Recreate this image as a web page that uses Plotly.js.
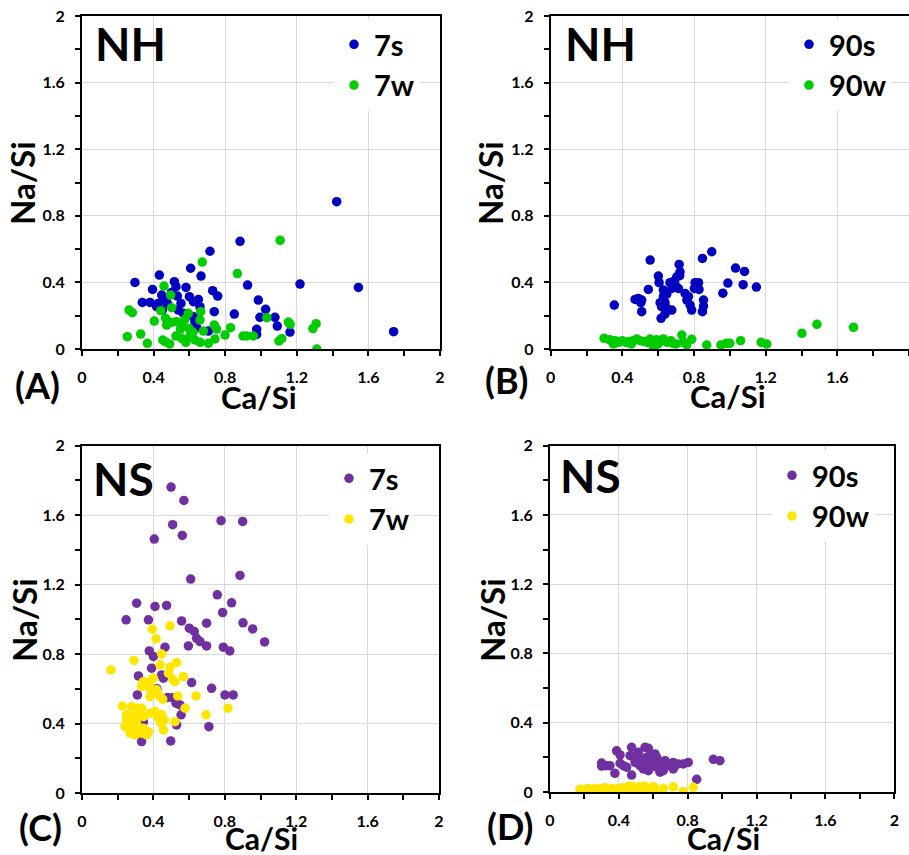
<!DOCTYPE html>
<html>
<head>
<meta charset="utf-8">
<script src="https://cdn.plot.ly/plotly-3.0.1.min.js"></script>
<style>html,body{margin:0;padding:0;background:#fff;}#chart{width:909px;height:855px;}</style>
</head>
<body>
<div id="chart"></div>
<script>
// ---------- DATA ----------
// Panel A: NH, 7 days
const nh7sX = [1.423,0.883,0.715,0.607,0.665,0.432,0.296,0.516,0.525,0.581,0.394,0.445,0.533,0.73,0.758,0.925,1.218,1.544,1.741,0.337,0.38,0.417,0.426,0.477,0.46,0.6,0.622,0.65,0.659,0.553,0.538,0.449,0.739,0.851,0.985,1.026,0.994,1.078,1.091,1.162,0.976,0.976,0.631,0.622,0.566,0.706,0.64,0.5];
const nh7sY = [0.885,0.647,0.587,0.485,0.438,0.444,0.40,0.404,0.374,0.37,0.358,0.324,0.318,0.35,0.318,0.384,0.39,0.37,0.104,0.28,0.28,0.254,0.274,0.274,0.30,0.314,0.284,0.298,0.254,0.274,0.234,0.234,0.224,0.21,0.294,0.238,0.19,0.19,0.138,0.102,0.118,0.088,0.164,0.194,0.214,0.108,0.13,0.34];
const nh7wX = [1.107,0.672,0.868,0.458,0.495,0.263,0.281,0.44,0.501,0.404,0.467,0.473,0.529,0.575,0.594,0.663,0.659,0.253,0.328,0.365,0.451,0.464,0.525,0.557,0.598,0.603,0.631,0.678,0.706,0.739,0.752,0.743,0.799,0.83,0.90,0.92,0.957,1.033,1.10,1.116,1.153,1.163,1.29,1.308,1.312,0.49,0.56,0.58,0.62,0.5,0.66,0.55];
const nh7wY = [0.653,0.522,0.453,0.378,0.324,0.234,0.218,0.23,0.248,0.168,0.184,0.144,0.164,0.178,0.214,0.224,0.174,0.074,0.09,0.034,0.054,0.044,0.078,0.064,0.124,0.078,0.054,0.108,0.034,0.144,0.12,0.06,0.084,0.128,0.078,0.078,0.078,0.188,0.048,0.062,0.162,0.148,0.122,0.152,0.0,0.03,0.14,0.04,0.1,0.16,0.04,0.12];
// Panel B: NH, 90 days
const nh90sX = [0.899,0.847,0.555,0.717,0.722,0.704,0.601,0.605,0.666,0.694,0.713,0.676,0.806,0.825,0.802,0.828,0.545,0.629,0.648,0.629,0.75,0.769,0.489,0.508,0.471,0.503,0.508,0.611,0.638,0.619,0.648,0.676,0.76,0.778,0.787,0.853,0.853,0.847,0.638,0.616,0.355,0.961,0.989,1.032,1.082,1.074,1.148,0.69,0.72];
const nh90sY = [0.584,0.544,0.534,0.508,0.464,0.434,0.438,0.398,0.398,0.39,0.364,0.364,0.398,0.398,0.364,0.358,0.358,0.354,0.33,0.314,0.334,0.314,0.304,0.294,0.298,0.278,0.224,0.278,0.278,0.254,0.244,0.234,0.294,0.264,0.234,0.294,0.258,0.224,0.21,0.184,0.264,0.335,0.396,0.486,0.466,0.386,0.372,0.41,0.44];
const nh90wX = [0.298,0.33,0.36,0.38,0.40,0.42,0.44,0.46,0.48,0.5,0.52,0.54,0.555,0.57,0.573,0.59,0.61,0.63,0.65,0.67,0.68,0.70,0.732,0.74,0.76,0.787,0.871,0.95,0.98,1.0,1.06,1.175,1.206,1.402,1.486,1.69,0.35,0.45,0.6,0.62];
const nh90wY = [0.064,0.055,0.05,0.04,0.05,0.04,0.045,0.05,0.06,0.05,0.045,0.04,0.06,0.05,0.0,0.055,0.045,0.06,0.04,0.05,0.035,0.03,0.084,0.04,0.024,0.058,0.024,0.024,0.034,0.034,0.05,0.04,0.03,0.094,0.148,0.13,0.03,0.03,0.03,0.055];
// Panel C: NS, 7 days
const ns7sX = [0.499,0.571,0.508,0.562,0.405,0.779,0.9,0.609,0.885,0.758,0.838,0.306,0.409,0.474,0.788,0.247,0.372,0.558,0.698,0.902,0.956,0.601,0.629,0.642,0.661,0.698,0.596,0.792,0.828,1.023,0.465,0.377,0.4,0.39,0.446,0.456,0.316,0.614,0.726,0.31,0.801,0.847,0.508,0.527,0.549,0.555,0.53,0.711,0.334,0.497,0.344,0.334,0.42,0.48];
const ns7sY = [1.762,1.685,1.545,1.483,1.462,1.568,1.564,1.232,1.253,1.141,1.095,1.093,1.074,1.08,1.039,0.997,0.997,0.991,0.978,0.98,0.945,0.949,0.93,0.891,0.872,0.847,0.847,0.84,0.818,0.87,0.84,0.818,0.786,0.719,0.68,0.661,0.674,0.636,0.603,0.565,0.565,0.565,0.549,0.517,0.507,0.45,0.392,0.382,0.296,0.3,0.41,0.392,0.6,0.55];
const ns7wX = [0.493,0.394,0.415,0.446,0.291,0.162,0.437,0.53,0.493,0.484,0.508,0.521,0.568,0.4,0.381,0.362,0.344,0.334,0.381,0.418,0.4,0.381,0.437,0.452,0.536,0.639,0.577,0.226,0.278,0.306,0.334,0.695,0.818,0.25,0.278,0.306,0.344,0.381,0.409,0.446,0.428,0.241,0.269,0.288,0.316,0.344,0.372,0.25,0.306,0.269,0.297,0.334,0.362,0.456,0.521,0.443,0.461];
const ns7wY = [0.963,0.943,0.888,0.8,0.763,0.709,0.738,0.751,0.724,0.69,0.655,0.641,0.67,0.661,0.641,0.622,0.641,0.613,0.603,0.594,0.575,0.555,0.555,0.54,0.559,0.559,0.488,0.501,0.497,0.488,0.488,0.45,0.488,0.45,0.44,0.45,0.44,0.459,0.469,0.45,0.43,0.382,0.402,0.373,0.363,0.373,0.353,0.421,0.402,0.344,0.334,0.344,0.334,0.363,0.411,0.402,0.421];
// Panel D: NS, 90 days
const ns90sX = [0.474,0.552,0.571,0.387,0.407,0.465,0.494,0.523,0.59,0.62,0.6,0.3,0.325,0.348,0.407,0.426,0.445,0.377,0.474,0.523,0.542,0.571,0.581,0.552,0.62,0.639,0.658,0.678,0.697,0.716,0.745,0.774,0.803,0.639,0.668,0.852,0.949,0.987,0.716,0.513,0.494,0.3,0.61,0.56];
const ns90sY = [0.258,0.258,0.252,0.238,0.214,0.21,0.2,0.19,0.214,0.2,0.171,0.167,0.152,0.152,0.166,0.152,0.143,0.108,0.098,0.152,0.133,0.123,0.152,0.171,0.143,0.114,0.123,0.152,0.162,0.171,0.162,0.162,0.171,0.171,0.181,0.073,0.189,0.181,0.133,0.229,0.171,0.15,0.22,0.2];
const ns90wX = [0.174,0.2,0.22,0.24,0.26,0.28,0.3,0.32,0.34,0.36,0.38,0.4,0.42,0.44,0.46,0.48,0.5,0.52,0.55,0.58,0.606,0.63,0.658,0.716,0.774,0.832,0.19,0.25,0.31,0.37,0.43,0.47,0.53,0.6];
const ns90wY = [0.016,0.01,0.02,0.012,0.02,0.01,0.02,0.025,0.015,0.02,0.01,0.02,0.025,0.02,0.035,0.03,0.02,0.03,0.035,0.01,0.025,0.005,0.02,0.03,0.002,0.027,0.0,0.005,0.0,0.005,0.005,0.01,0.0,0.03];

const seriesNames = ['7s','7w','90s','90w','7s','7w','90s','90w'];
const tickVals = [0,0.4,0.8,1.2,1.6,2];
const panelTitles = ['NH','NH','NS','NS'];
const panelLetters = ['(A)','(B)','(C)','(D)'];
const xTitle = 'Ca/Si';
const yTitle = 'Na/Si';

// ---------- STYLE ----------
const BLUE = 'rgb(0,0,192)', GREEN = 'rgb(0,204,0)', PURPLE = 'rgb(112,48,160)', YELLOW = 'rgb(255,230,0)';
const FONT = 'Lato, "Open Sans", sans-serif';
const W = 909, H = 855;
const px = X => X / W;
const py = Y => 1 - Y / H;

function tr(x, y, name, color, xa, ya, leg) {
  return {type:'scatter', mode:'markers', x, y, name, xaxis:xa, yaxis:ya, legend:leg,
    marker:{color, size:9.5, line:{width:0}}, hoverinfo:'x+y'};
}
const data = [
  tr(nh7sX, nh7sY, seriesNames[0], BLUE, 'x', 'y', 'legend'),
  tr(nh7wX, nh7wY, seriesNames[1], GREEN, 'x', 'y', 'legend'),
  tr(nh90sX, nh90sY, seriesNames[2], BLUE, 'x2', 'y2', 'legend2'),
  tr(nh90wX, nh90wY, seriesNames[3], GREEN, 'x2', 'y2', 'legend2'),
  tr(ns7sX, ns7sY, seriesNames[4], PURPLE, 'x3', 'y3', 'legend3'),
  tr(ns7wX, ns7wY, seriesNames[5], YELLOW, 'x3', 'y3', 'legend3'),
  tr(ns90sX, ns90sY, seriesNames[6], PURPLE, 'x4', 'y4', 'legend4'),
  tr(ns90wX, ns90wY, seriesNames[7], YELLOW, 'x4', 'y4', 'legend4')
];

function baseAxis(dom, anchor, standoff) {
  return {
    domain: dom, anchor, range:[0,2], tickmode:'array', tickvals:tickVals,
    showgrid:true, gridcolor:'#d9d9d9', gridwidth:1, zeroline:false,
    showline:true, linecolor:'#000', linewidth:1.8, mirror:true,
    ticks:'outside', ticklen:5, tickwidth:1.5, tickcolor:'#000',
    minor:{dtick:0.2, tick0:0, ticks:'outside', ticklen:5, tickwidth:1.5, tickcolor:'#000', showgrid:false},
    tickfont:{family:FONT, size:16, weight:'bold', color:'#000'},
    ticklabelstandoff: standoff,
    fixedrange:true, automargin:false
  };
}
const doms = [
  {x:[px(82), px(440)], y:[py(349), py(16)]},
  {x:[px(550.7), 1.0], y:[py(349), py(16)]},
  {x:[px(82), px(439)], y:[py(793), py(445.7)]},
  {x:[px(550), px(894.3)], y:[py(792), py(445.7)]}
];
const layout = {
  width:W, height:H, margin:{l:0, r:0, t:0, b:0},
  paper_bgcolor:'#fff', plot_bgcolor:'#fff', showlegend:true,
  font:{family:FONT, color:'#000'},
  annotations:[]
};
const axIds = ['', '2', '3', '4'];
doms.forEach((d, i) => {
  layout['xaxis' + axIds[i]] = baseAxis(d.x, 'y' + axIds[i], 8);
  layout['yaxis' + axIds[i]] = baseAxis(d.y, 'x' + axIds[i], 7);
});
const legPos = [[334, 19], [789, 19], [329, 453], [772, 450]];
['legend','legend2','legend3','legend4'].forEach((k, i) => {
  layout[k] = {x:px(legPos[i][0]), y:py(legPos[i][1]), xanchor:'left', yanchor:'top',
    bgcolor:'#fff', borderwidth:0, font:{family:FONT, size:29, weight:'bold', color:'#000'},
    tracegroupgap:0, itemclick:false, itemdoubleclick:false};
});
function ann(text, X, Y, size, xanchor, angle) {
  layout.annotations.push({text, xref:'paper', yref:'paper', x:px(X), y:py(Y),
    xanchor, yanchor:'middle', showarrow:false, textangle:angle || 0, borderpad:0,
    font:{family:FONT, size, weight:'bold', color:'#000'}});
}
// panel titles and letters
const titlePos = [[94, 44], [564, 44], [92, 478], [559, 475]];
const letterPos = [[37, 385], [506, 380], [40, 827], [510, 826]];
panelTitles.forEach((t, i) => ann(t, titlePos[i][0], titlePos[i][1], 46, 'left'));
panelLetters.forEach((t, i) => ann(t, letterPos[i][0], letterPos[i][1], 36, 'center'));
// axis titles
const xTitlePos = [[259, 397, 31], [728, 396, 31], [261, 838, 30], [723, 838, 30]];
const yTitlePos = [[22, 183], [490, 183], [24, 620], [492, 620]];
xTitlePos.forEach(p => ann(xTitle, p[0], p[1], p[2], 'center'));
yTitlePos.forEach(p => ann(yTitle, p[0], p[1], 33, 'center', -90));

Plotly.newPlot('chart', data, layout, {displayModeBar:false});
</script>
</body>
</html>
